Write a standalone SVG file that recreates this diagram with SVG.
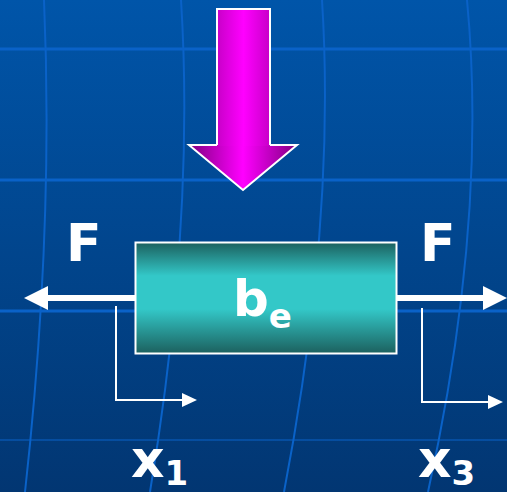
<svg xmlns="http://www.w3.org/2000/svg" width="507" height="492" viewBox="0 0 507 492">
<defs>
<linearGradient id="bg" x1="0" y1="0" x2="0" y2="1">
<stop offset="0" stop-color="#0055a9"/>
<stop offset="1" stop-color="#023672"/>
</linearGradient>
<linearGradient id="shaft" x1="0" y1="0" x2="1" y2="0">
<stop offset="0" stop-color="#c800c8"/>
<stop offset="0.5" stop-color="#ff00ff"/>
<stop offset="1" stop-color="#c800c8"/>
</linearGradient>
<linearGradient id="head" x1="0" y1="0" x2="1" y2="0">
<stop offset="0" stop-color="#800080"/>
<stop offset="0.5" stop-color="#ff00ff"/>
<stop offset="1" stop-color="#800080"/>
</linearGradient>
<linearGradient id="box" x1="0" y1="0" x2="0" y2="1">
<stop offset="0" stop-color="#1c605e"/>
<stop offset="0.3" stop-color="#33c8c8"/>
<stop offset="0.6" stop-color="#33c8c8"/>
<stop offset="1" stop-color="#1c605e"/>
</linearGradient>
</defs>
<style>
.grid{stroke:#0a62c8;fill:none}
.lbl{font-family:"DejaVu Sans",Verdana,sans-serif;font-weight:bold;fill:#fff}
.thin{stroke:#fff;stroke-width:2;fill:none}
</style>
<rect width="507" height="492" fill="url(#bg)"/>
<g id="background-grid">
<line class="grid" x1="0" y1="49" x2="507" y2="49" stroke-width="3" stroke="#0a66cc"/>
<line class="grid" x1="0" y1="180" x2="507" y2="180" stroke-width="3" stroke="#0a66cc"/>
<line class="grid" x1="0" y1="311" x2="507" y2="311" stroke-width="3" stroke="#0a62c8"/>
<line class="grid" x1="0" y1="440" x2="507" y2="440" stroke-width="1" stroke="#0a4a90"/>
<path class="grid" stroke-width="2" d="M44,0 Q54,230 25,492"/>
<path class="grid" stroke-width="2" d="M181,0 Q195,220 150,492"/>
<path class="grid" stroke-width="2" d="M322,0 Q336,220 284,492"/>
<path class="grid" stroke-width="2" d="M467,0 Q488,220 428,492"/>
</g>
<g id="load-arrow">
<path d="M189,145 L297,145 L243,190 Z" fill="url(#head)" stroke="#fff" stroke-width="2" stroke-linejoin="miter"/>
<rect x="217" y="9" width="53" height="137" fill="url(#shaft)"/>
<path d="M217,145 L217,9 L270,9 L270,145" fill="none" stroke="#fff" stroke-width="2"/>
</g>
<g id="connectors">
<line x1="135" y1="298" x2="46" y2="298" stroke="#fff" stroke-width="6"/>
<path d="M24,298 L48,286 L48,310 Z" fill="#fff"/>
<line x1="396" y1="298" x2="485" y2="298" stroke="#fff" stroke-width="6"/>
<path d="M507,298 L483,286 L483,310 Z" fill="#fff"/>
<path class="thin" d="M116,306 L116,400 L183,400"/>
<path d="M197,400 L182,393 L182,407 Z" fill="#fff"/>
<path class="thin" d="M422,308 L422,402 L489,402"/>
<path d="M503,402 L488,395 L488,409 Z" fill="#fff"/>
</g>
<g id="element">
<rect x="135.5" y="242.5" width="261" height="111" fill="url(#box)" stroke="#fff" stroke-width="2"/>
<text class="lbl" x="233" y="316" font-size="50">b<tspan font-size="34" dy="12">e</tspan></text>
</g>
<g id="labels">
<text class="lbl" x="66" y="261" font-size="52">F</text>
<text class="lbl" x="420" y="261" font-size="52">F</text>
<text class="lbl" x="131" y="477" font-size="52">x<tspan font-size="34" dy="8">1</tspan></text>
<text class="lbl" x="418" y="477" font-size="52">x<tspan font-size="34" dy="8">3</tspan></text>
</g>
</svg>
